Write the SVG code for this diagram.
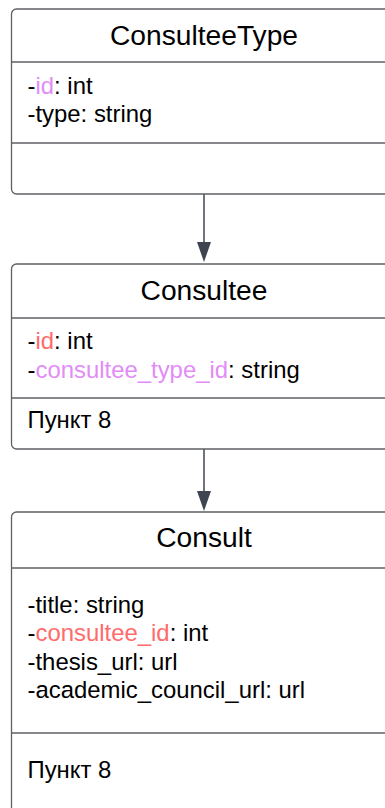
<svg xmlns="http://www.w3.org/2000/svg" width="385" height="808" viewBox="0 0 385 808">
<defs>
<style>
.box{fill:#fff;stroke:#5e6066;stroke-width:1.3}
.div{stroke:#5e6066;stroke-width:1.3}
.t{font-family:"Liberation Sans",Arial,sans-serif;fill:#000}
.title{font-size:28.2px;text-anchor:middle}
.a{font-size:23.9px}
.pk{fill:#e28cf7}
.rd{fill:#ff6b6b}
.con{stroke:#3e4450;stroke-width:1.5;fill:none}
</style>
</defs>
<g id="connectors">
<line class="con" x1="204" y1="194" x2="204" y2="242"/>
<path d="M197,242 L211,242 L204,262 Z" fill="#3e4450"/>
<line class="con" x1="204" y1="449" x2="204" y2="492"/>
<path d="M197,491 L211,491 L204,511 Z" fill="#3e4450"/>
</g>
<g id="ConsulteeType">
<rect class="box" x="11.5" y="9" width="385" height="185" rx="5"/>
<line class="div" x1="11.5" y1="62" x2="396.5" y2="62"/>
<line class="div" x1="11.5" y1="143" x2="396.5" y2="143"/>
<text class="t title" x="204" y="45">ConsulteeType</text>
<text class="t a" x="27.5" y="94">-<tspan class="pk">id</tspan>: int</text>
<text class="t a" x="27.5" y="122">-type: string</text>
</g>
<g id="Consultee">
<rect class="box" x="11.5" y="264" width="385" height="185" rx="5"/>
<line class="div" x1="11.5" y1="318" x2="396.5" y2="318"/>
<line class="div" x1="11.5" y1="398" x2="396.5" y2="398"/>
<text class="t title" x="204" y="300">Consultee</text>
<text class="t a" x="27.5" y="349">-<tspan class="rd">id</tspan>: int</text>
<text class="t a" x="27.5" y="378">-<tspan class="pk">consultee_type_id</tspan>: string</text>
<text class="t a" x="27.5" y="428">Пункт 8</text>
</g>
<g id="Consult">
<rect class="box" x="11.5" y="512" width="385" height="310" rx="5"/>
<line class="div" x1="11.5" y1="568" x2="396.5" y2="568"/>
<line class="div" x1="11.5" y1="733" x2="396.5" y2="733"/>
<text class="t title" x="204" y="547">Consult</text>
<text class="t a" x="27.5" y="613">-title: string</text>
<text class="t a" x="27.5" y="641">-<tspan class="rd">consultee_id</tspan>: int</text>
<text class="t a" x="27.5" y="670">-thesis_url: url</text>
<text class="t a" x="27.5" y="698">-academic_council_url: url</text>
<text class="t a" x="27.5" y="778">Пункт 8</text>
</g>
</svg>
